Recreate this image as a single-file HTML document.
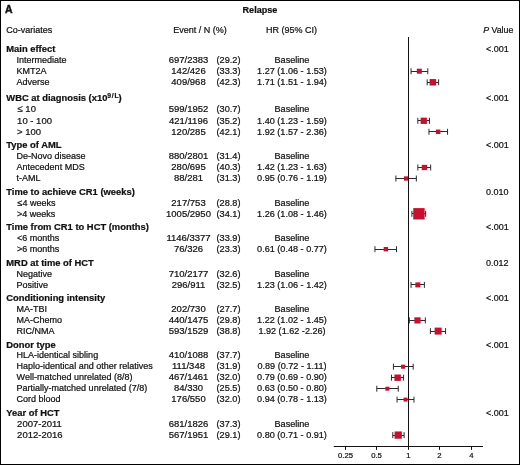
<!DOCTYPE html>
<html><head><meta charset="utf-8"><style>
html,body{margin:0;padding:0;background:#fff;}
body{width:520px;height:465px;overflow:hidden;}
svg{display:block;font-family:"Liberation Sans",sans-serif;}
</style></head><body>
<svg width="520" height="465" viewBox="0 0 520 465">
<rect x="0.5" y="0.5" width="519" height="464" fill="#fff" stroke="#000" stroke-width="1"/>
<g fill="#111" font-size="9.0" stroke="#111" stroke-width="0.22" style="filter:grayscale(1)">
<text x="5.0" y="12.8" font-weight="bold" font-size="10.5" stroke-width="0.45">A</text>
<text x="260" y="12.9" font-weight="bold" font-size="9.1" text-anchor="middle">Relapse</text>
<text x="6.2" y="33.0">Co-variates</text>
<text x="200.1" y="33.0" text-anchor="middle">Event / N (%)</text>
<text x="291.5" y="33.0" text-anchor="middle">HR (95% CI)</text>
<text x="483.2" y="33.0" font-size="8.8"><tspan font-style="italic">P</tspan> Value</text>
<text x="6.3" y="52.2" font-weight="bold" font-size="9.4">Main effect</text>
<text x="486.0" y="52.2">&lt;.001</text>
<text x="16.60" y="62.9">Intermediate</text>
<text x="188.5" y="62.9" text-anchor="middle" font-size="9.5">697/2383</text>
<text x="228.5" y="62.9" text-anchor="middle" font-size="9.2">(29.2)</text>
<text x="292.0" y="62.9" text-anchor="middle" font-size="9.1">Baseline</text>
<text x="16.60" y="73.9">KMT2A</text>
<text x="188.5" y="73.9" text-anchor="middle" font-size="9.5">142/426</text>
<text x="228.5" y="73.9" text-anchor="middle" font-size="9.2">(33.3)</text>
<text x="292.0" y="73.9" text-anchor="middle" font-size="9.1">1.27 (1.06 - 1.53)</text>
<text x="16.60" y="85.0">Adverse</text>
<text x="188.5" y="85.0" text-anchor="middle" font-size="9.5">409/968</text>
<text x="228.5" y="85.0" text-anchor="middle" font-size="9.2">(42.3)</text>
<text x="292.0" y="85.0" text-anchor="middle" font-size="9.1">1.71 (1.51 - 1.94)</text>
<text x="6.3" y="101.4" font-weight="bold" font-size="9.4">WBC at diagnosis (x10<tspan font-size="6.8" dy="-3.6" letter-spacing="0.7">9/L</tspan><tspan dy="3.6" dx="-0.9">)</tspan></text>
<text x="486.0" y="101.4">&lt;.001</text>
<text x="17.50" y="112.3" font-size="9.5">≤ 10</text>
<text x="188.5" y="112.3" text-anchor="middle" font-size="9.5">599/1952</text>
<text x="228.5" y="112.3" text-anchor="middle" font-size="9.2">(30.7)</text>
<text x="292.0" y="112.3" text-anchor="middle" font-size="9.1">Baseline</text>
<text x="17.10" y="123.5" font-size="9.5">10 - 100</text>
<text x="188.5" y="123.5" text-anchor="middle" font-size="9.5">421/1196</text>
<text x="228.5" y="123.5" text-anchor="middle" font-size="9.2">(35.2)</text>
<text x="292.0" y="123.5" text-anchor="middle" font-size="9.1">1.40 (1.23 - 1.59)</text>
<text x="17.00" y="134.5" font-size="9.5">&gt; 100</text>
<text x="188.5" y="134.5" text-anchor="middle" font-size="9.5">120/285</text>
<text x="228.5" y="134.5" text-anchor="middle" font-size="9.2">(42.1)</text>
<text x="292.0" y="134.5" text-anchor="middle" font-size="9.1">1.92 (1.57 - 2.36)</text>
<text x="6.3" y="148.0" font-weight="bold" font-size="9.4">Type of AML</text>
<text x="486.0" y="148.0">&lt;.001</text>
<text x="16.60" y="159.1">De-Novo disease</text>
<text x="188.5" y="159.1" text-anchor="middle" font-size="9.5">880/2801</text>
<text x="228.5" y="159.1" text-anchor="middle" font-size="9.2">(31.4)</text>
<text x="292.0" y="159.1" text-anchor="middle" font-size="9.1">Baseline</text>
<text x="16.60" y="170.2">Antecedent MDS</text>
<text x="188.5" y="170.2" text-anchor="middle" font-size="9.5">280/695</text>
<text x="228.5" y="170.2" text-anchor="middle" font-size="9.2">(40.3)</text>
<text x="292.0" y="170.2" text-anchor="middle" font-size="9.1">1.42 (1.23 - 1.63)</text>
<text x="16.60" y="181.2">t-AML</text>
<text x="188.5" y="181.2" text-anchor="middle" font-size="9.5">88/281</text>
<text x="228.5" y="181.2" text-anchor="middle" font-size="9.2">(31.3)</text>
<text x="292.0" y="181.2" text-anchor="middle" font-size="9.1">0.95 (0.76 - 1.19)</text>
<text x="6.3" y="194.75" font-weight="bold" font-size="9.4">Time to achieve CR1 (weeks)</text>
<text x="486.0" y="194.75">0.010</text>
<text x="17.50" y="205.5">≤4 weeks</text>
<text x="188.5" y="205.5" text-anchor="middle" font-size="9.5">217/753</text>
<text x="228.5" y="205.5" text-anchor="middle" font-size="9.2">(28.8)</text>
<text x="292.0" y="205.5" text-anchor="middle" font-size="9.1">Baseline</text>
<text x="17.00" y="216.5">&gt;4 weeks</text>
<text x="188.5" y="216.5" text-anchor="middle" font-size="9.5">1005/2950</text>
<text x="228.5" y="216.5" text-anchor="middle" font-size="9.2">(34.1)</text>
<text x="292.0" y="216.5" text-anchor="middle" font-size="9.1">1.26 (1.08 - 1.46)</text>
<text x="6.3" y="230.2" font-weight="bold" font-size="9.4">Time from CR1 to HCT (months)</text>
<text x="486.0" y="230.2">&lt;.001</text>
<text x="17.00" y="241.1">&lt;6 months</text>
<text x="188.5" y="241.1" text-anchor="middle" font-size="9.5">1146/3377</text>
<text x="228.5" y="241.1" text-anchor="middle" font-size="9.2">(33.9)</text>
<text x="292.0" y="241.1" text-anchor="middle" font-size="9.1">Baseline</text>
<text x="17.00" y="251.9">&gt;6 months</text>
<text x="188.5" y="251.9" text-anchor="middle" font-size="9.5">76/326</text>
<text x="228.5" y="251.9" text-anchor="middle" font-size="9.2">(23.3)</text>
<text x="292.0" y="251.9" text-anchor="middle" font-size="9.1">0.61 (0.48 - 0.77)</text>
<text x="6.3" y="265.8" font-weight="bold" font-size="9.4">MRD at time of HCT</text>
<text x="486.0" y="265.8">0.012</text>
<text x="16.60" y="276.6">Negative</text>
<text x="188.5" y="276.6" text-anchor="middle" font-size="9.5">710/2177</text>
<text x="228.5" y="276.6" text-anchor="middle" font-size="9.2">(32.6)</text>
<text x="292.0" y="276.6" text-anchor="middle" font-size="9.1">Baseline</text>
<text x="16.60" y="287.6">Positive</text>
<text x="188.5" y="287.6" text-anchor="middle" font-size="9.5">296/911</text>
<text x="228.5" y="287.6" text-anchor="middle" font-size="9.2">(32.5)</text>
<text x="292.0" y="287.6" text-anchor="middle" font-size="9.1">1.23 (1.06 - 1.42)</text>
<text x="6.3" y="301.0" font-weight="bold" font-size="9.4">Conditioning intensity</text>
<text x="486.0" y="301.0">&lt;.001</text>
<text x="16.60" y="311.8">MA-TBI</text>
<text x="188.5" y="311.8" text-anchor="middle" font-size="9.5">202/730</text>
<text x="228.5" y="311.8" text-anchor="middle" font-size="9.2">(27.7)</text>
<text x="292.0" y="311.8" text-anchor="middle" font-size="9.1">Baseline</text>
<text x="16.60" y="323.1">MA-Chemo</text>
<text x="188.5" y="323.1" text-anchor="middle" font-size="9.5">440/1475</text>
<text x="228.5" y="323.1" text-anchor="middle" font-size="9.2">(29.8)</text>
<text x="292.0" y="323.1" text-anchor="middle" font-size="9.1">1.22 (1.02 - 1.45)</text>
<text x="16.60" y="333.8">RIC/NMA</text>
<text x="188.5" y="333.8" text-anchor="middle" font-size="9.5">593/1529</text>
<text x="228.5" y="333.8" text-anchor="middle" font-size="9.2">(38.8)</text>
<text x="292.0" y="333.8" text-anchor="middle" font-size="9.1">1.92 (1.62 -2.26)</text>
<text x="6.3" y="347.5" font-weight="bold" font-size="9.4">Donor type</text>
<text x="486.0" y="347.5">&lt;.001</text>
<text x="16.60" y="358.2">HLA-identical sibling</text>
<text x="188.5" y="358.2" text-anchor="middle" font-size="9.5">410/1088</text>
<text x="228.5" y="358.2" text-anchor="middle" font-size="9.2">(37.7)</text>
<text x="292.0" y="358.2" text-anchor="middle" font-size="9.1">Baseline</text>
<text x="16.60" y="369.4">Haplo-identical and other relatives</text>
<text x="188.5" y="369.4" text-anchor="middle" font-size="9.5">111/348</text>
<text x="228.5" y="369.4" text-anchor="middle" font-size="9.2">(31.9)</text>
<text x="292.0" y="369.4" text-anchor="middle" font-size="9.1">0.89 (0.72 - 1.11)</text>
<text x="16.60" y="380.4">Well-matched unrelated (8/8)</text>
<text x="188.5" y="380.4" text-anchor="middle" font-size="9.5">467/1461</text>
<text x="228.5" y="380.4" text-anchor="middle" font-size="9.2">(32.0)</text>
<text x="292.0" y="380.4" text-anchor="middle" font-size="9.1">0.79 (0.69 - 0.90)</text>
<text x="16.60" y="391.4">Partially-matched unrelated (7/8)</text>
<text x="188.5" y="391.4" text-anchor="middle" font-size="9.5">84/330</text>
<text x="228.5" y="391.4" text-anchor="middle" font-size="9.2">(25.5)</text>
<text x="292.0" y="391.4" text-anchor="middle" font-size="9.1">0.63 (0.50 - 0.80)</text>
<text x="16.60" y="402.3">Cord blood</text>
<text x="188.5" y="402.3" text-anchor="middle" font-size="9.5">176/550</text>
<text x="228.5" y="402.3" text-anchor="middle" font-size="9.2">(32.0)</text>
<text x="292.0" y="402.3" text-anchor="middle" font-size="9.1">0.94 (0.78 - 1.13)</text>
<text x="6.3" y="416.0" font-weight="bold" font-size="9.4">Year of HCT</text>
<text x="486.0" y="416.0">&lt;.001</text>
<text x="17.10" y="426.8" font-size="9.5">2007-2011</text>
<text x="188.5" y="426.8" text-anchor="middle" font-size="9.5">681/1826</text>
<text x="228.5" y="426.8" text-anchor="middle" font-size="9.2">(37.3)</text>
<text x="292.0" y="426.8" text-anchor="middle" font-size="9.1">Baseline</text>
<text x="17.10" y="437.8" font-size="9.5">2012-2016</text>
<text x="188.5" y="437.8" text-anchor="middle" font-size="9.5">567/1951</text>
<text x="228.5" y="437.8" text-anchor="middle" font-size="9.2">(29.1)</text>
<text x="292.0" y="437.8" text-anchor="middle" font-size="9.1">0.80 (0.71 - 0.91)</text>
<text x="345.50" y="458.2" text-anchor="middle" font-size="7.7">0.25</text>
<text x="376.50" y="458.2" text-anchor="middle" font-size="7.7">0.5</text>
<text x="408.50" y="458.2" text-anchor="middle" font-size="7.7">1</text>
<text x="439.50" y="458.2" text-anchor="middle" font-size="7.7">2</text>
<text x="471.50" y="458.2" text-anchor="middle" font-size="7.7">4</text>
</g>
<g>
<line x1="411.06" y1="71.50" x2="427.79" y2="71.50" stroke="#2b2b2b" stroke-width="1"/>
<line x1="411.06" y1="68.20" x2="411.06" y2="74.20" stroke="#2b2b2b" stroke-width="1"/>
<line x1="427.79" y1="68.20" x2="427.79" y2="74.20" stroke="#2b2b2b" stroke-width="1"/>
<rect x="416.80" y="68.70" width="5.00" height="5.00" fill="#c8102e"/>
<line x1="427.19" y1="82.50" x2="438.61" y2="82.50" stroke="#2b2b2b" stroke-width="1"/>
<line x1="427.19" y1="79.30" x2="427.19" y2="85.30" stroke="#2b2b2b" stroke-width="1"/>
<line x1="438.61" y1="79.30" x2="438.61" y2="85.30" stroke="#2b2b2b" stroke-width="1"/>
<rect x="429.61" y="79.05" width="6.50" height="6.50" fill="#c8102e"/>
<line x1="417.84" y1="120.50" x2="429.54" y2="120.50" stroke="#2b2b2b" stroke-width="1"/>
<line x1="417.84" y1="117.80" x2="417.84" y2="123.80" stroke="#2b2b2b" stroke-width="1"/>
<line x1="429.54" y1="117.80" x2="429.54" y2="123.80" stroke="#2b2b2b" stroke-width="1"/>
<rect x="420.59" y="117.65" width="6.30" height="6.30" fill="#c8102e"/>
<line x1="428.96" y1="131.50" x2="447.55" y2="131.50" stroke="#2b2b2b" stroke-width="1"/>
<line x1="428.96" y1="128.80" x2="428.96" y2="134.80" stroke="#2b2b2b" stroke-width="1"/>
<line x1="447.55" y1="128.80" x2="447.55" y2="134.80" stroke="#2b2b2b" stroke-width="1"/>
<rect x="435.89" y="129.55" width="4.50" height="4.50" fill="#c8102e"/>
<line x1="417.84" y1="167.50" x2="430.67" y2="167.50" stroke="#2b2b2b" stroke-width="1"/>
<line x1="417.84" y1="164.50" x2="417.84" y2="170.50" stroke="#2b2b2b" stroke-width="1"/>
<line x1="430.67" y1="164.50" x2="430.67" y2="170.50" stroke="#2b2b2b" stroke-width="1"/>
<rect x="421.74" y="164.85" width="5.30" height="5.30" fill="#c8102e"/>
<line x1="395.89" y1="178.50" x2="416.33" y2="178.50" stroke="#2b2b2b" stroke-width="1"/>
<line x1="395.89" y1="175.50" x2="395.89" y2="181.50" stroke="#2b2b2b" stroke-width="1"/>
<line x1="416.33" y1="175.50" x2="416.33" y2="181.50" stroke="#2b2b2b" stroke-width="1"/>
<rect x="403.91" y="176.35" width="4.30" height="4.30" fill="#c8102e"/>
<line x1="411.91" y1="213.50" x2="425.65" y2="213.50" stroke="#2b2b2b" stroke-width="1"/>
<line x1="411.91" y1="210.80" x2="411.91" y2="216.80" stroke="#2b2b2b" stroke-width="1"/>
<line x1="425.65" y1="210.80" x2="425.65" y2="216.80" stroke="#2b2b2b" stroke-width="1"/>
<rect x="413.24" y="208.10" width="11.40" height="11.40" fill="#c8102e"/>
<line x1="374.94" y1="249.50" x2="396.48" y2="249.50" stroke="#2b2b2b" stroke-width="1"/>
<line x1="374.94" y1="246.20" x2="374.94" y2="252.20" stroke="#2b2b2b" stroke-width="1"/>
<line x1="396.48" y1="246.20" x2="396.48" y2="252.20" stroke="#2b2b2b" stroke-width="1"/>
<rect x="383.67" y="247.00" width="4.40" height="4.40" fill="#c8102e"/>
<line x1="411.06" y1="284.50" x2="424.39" y2="284.50" stroke="#2b2b2b" stroke-width="1"/>
<line x1="411.06" y1="281.90" x2="411.06" y2="287.90" stroke="#2b2b2b" stroke-width="1"/>
<line x1="424.39" y1="281.90" x2="424.39" y2="287.90" stroke="#2b2b2b" stroke-width="1"/>
<rect x="415.34" y="282.40" width="5.00" height="5.00" fill="#c8102e"/>
<line x1="409.30" y1="320.50" x2="425.34" y2="320.50" stroke="#2b2b2b" stroke-width="1"/>
<line x1="409.30" y1="317.40" x2="409.30" y2="323.40" stroke="#2b2b2b" stroke-width="1"/>
<line x1="425.34" y1="317.40" x2="425.34" y2="323.40" stroke="#2b2b2b" stroke-width="1"/>
<rect x="414.37" y="317.30" width="6.20" height="6.20" fill="#c8102e"/>
<line x1="430.39" y1="331.50" x2="445.57" y2="331.50" stroke="#2b2b2b" stroke-width="1"/>
<line x1="430.39" y1="328.10" x2="430.39" y2="334.10" stroke="#2b2b2b" stroke-width="1"/>
<line x1="445.57" y1="328.10" x2="445.57" y2="334.10" stroke="#2b2b2b" stroke-width="1"/>
<rect x="434.64" y="327.60" width="7.00" height="7.00" fill="#c8102e"/>
<line x1="393.42" y1="366.50" x2="413.16" y2="366.50" stroke="#2b2b2b" stroke-width="1"/>
<line x1="393.42" y1="363.70" x2="393.42" y2="369.70" stroke="#2b2b2b" stroke-width="1"/>
<line x1="413.16" y1="363.70" x2="413.16" y2="369.70" stroke="#2b2b2b" stroke-width="1"/>
<rect x="401.04" y="364.65" width="4.10" height="4.10" fill="#c8102e"/>
<line x1="391.48" y1="377.50" x2="403.60" y2="377.50" stroke="#2b2b2b" stroke-width="1"/>
<line x1="391.48" y1="374.70" x2="391.48" y2="380.70" stroke="#2b2b2b" stroke-width="1"/>
<line x1="403.60" y1="374.70" x2="403.60" y2="380.70" stroke="#2b2b2b" stroke-width="1"/>
<rect x="394.45" y="374.50" width="6.40" height="6.40" fill="#c8102e"/>
<line x1="376.80" y1="388.50" x2="398.23" y2="388.50" stroke="#2b2b2b" stroke-width="1"/>
<line x1="376.80" y1="385.70" x2="376.80" y2="391.70" stroke="#2b2b2b" stroke-width="1"/>
<line x1="398.23" y1="385.70" x2="398.23" y2="391.70" stroke="#2b2b2b" stroke-width="1"/>
<rect x="385.34" y="386.70" width="4.00" height="4.00" fill="#c8102e"/>
<line x1="397.07" y1="399.50" x2="413.97" y2="399.50" stroke="#2b2b2b" stroke-width="1"/>
<line x1="397.07" y1="396.60" x2="397.07" y2="402.60" stroke="#2b2b2b" stroke-width="1"/>
<line x1="413.97" y1="396.60" x2="413.97" y2="402.60" stroke="#2b2b2b" stroke-width="1"/>
<rect x="403.58" y="397.60" width="4.00" height="4.00" fill="#c8102e"/>
<line x1="392.79" y1="435.50" x2="404.10" y2="435.50" stroke="#2b2b2b" stroke-width="1"/>
<line x1="392.79" y1="432.10" x2="392.79" y2="438.10" stroke="#2b2b2b" stroke-width="1"/>
<line x1="404.10" y1="432.10" x2="404.10" y2="438.10" stroke="#2b2b2b" stroke-width="1"/>
<rect x="394.58" y="431.45" width="7.30" height="7.30" fill="#c8102e"/>
</g>
<g fill="#111">
<line x1="408.5" y1="37" x2="408.5" y2="446.5" stroke="#111" stroke-width="1"/>
<line x1="333.8" y1="446.5" x2="483" y2="446.5" stroke="#111" stroke-width="1"/>
<line x1="345.50" y1="446.5" x2="345.50" y2="449.9" stroke="#111" stroke-width="1"/>
<line x1="376.50" y1="446.5" x2="376.50" y2="449.9" stroke="#111" stroke-width="1"/>
<line x1="408.50" y1="446.5" x2="408.50" y2="449.9" stroke="#111" stroke-width="1"/>
<line x1="439.50" y1="446.5" x2="439.50" y2="449.9" stroke="#111" stroke-width="1"/>
<line x1="471.50" y1="446.5" x2="471.50" y2="449.9" stroke="#111" stroke-width="1"/>
</g>
</svg>
</body></html>
